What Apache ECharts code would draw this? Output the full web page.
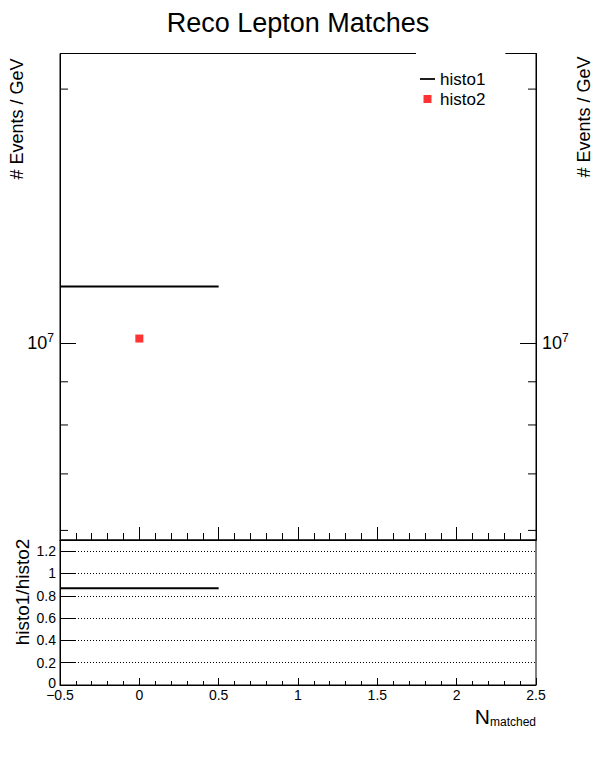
<!DOCTYPE html>
<html>
<head>
<meta charset="utf-8">
<script src="https://cdn.jsdelivr.net/npm/echarts@6/dist/echarts.min.js"></script>
<style>
  html, body { margin: 0; padding: 0; background: #fff; }
  #chart { width: 596px; height: 772px; }
</style>
</head>
<body>
<div id="chart"></div>
<script>
const binLow = [-0.5];
const binHigh = [0.5];
const binCenter = [0];
const histo1 = [1.167e7];
const histo2 = [1.0127e7];
const ratio = [0.868];
const yMinorTicks = [6e6, 7e6, 8e6, 9e6, 2e7];
const seriesNames = ['histo1', 'histo2'];

const FONT = "'Liberation Sans', Arial, Helvetica, sans-serif";

function stepData(lo, hi, vals) {
  const out = [];
  for (let i = 0; i < vals.length; i++) {
    out.push([lo[i], vals[i]]);
    out.push([hi[i], vals[i]]);
  }
  return out;
}

function powLabel(v) {
  const l = Math.log10(v);
  const r = Math.round(l);
  if (Math.abs(l - r) < 1e-9) return '{b|10}{s|' + r + '}';
  return '';
}

const chart = echarts.init(document.getElementById('chart'), null, { renderer: 'svg' });

const logRich = {
  b: { fontSize: 18, fontFamily: FONT, color: '#000', lineHeight: 22 },
  s: { fontSize: 12, fontFamily: FONT, color: '#000', verticalAlign: 'top', lineHeight: 22 }
};

const option = {
  animation: false,
  backgroundColor: '#fff',
  textStyle: { fontFamily: FONT, color: '#000' },
  title: {
    text: 'Reco Lepton Matches',
    left: 'center',
    top: 4,
    textStyle: { fontSize: 27, fontWeight: 'normal', fontFamily: FONT, color: '#000' }
  },
  legend: {
    orient: 'vertical',
    left: 416,
    top: 50,
    padding: [19, 20, 5, 4],
    itemGap: 0,
    itemWidth: 15,
    itemHeight: 8,
    backgroundColor: '#fff',
    borderWidth: 0,
    z: 10,
    textStyle: { fontSize: 17, fontFamily: FONT, color: '#000', lineHeight: 20 },
    data: [
      { name: seriesNames[0], icon: 'path://M0,0H17V2H0Z', itemStyle: { color: '#000' } },
      { name: seriesNames[1], icon: 'path://M0,0H8V8H0Z', itemStyle: { color: '#ff0000' } }
    ]
  },
  grid: [
    { left: 60, right: 60, top: 53.5, height: 486.5, show: true, borderColor: '#000', borderWidth: 1, backgroundColor: 'transparent' },
    { left: 60, right: 60, top: 540, height: 145, show: true, borderColor: '#000', borderWidth: 1, backgroundColor: 'transparent' }
  ],
  xAxis: [
    {
      gridIndex: 0, type: 'value', min: -0.5, max: 2.5, interval: 0.5,
      axisLine: { show: true, onZero: false, lineStyle: { color: '#000', width: 1 } },
      axisTick: { show: true, inside: true, length: 13, lineStyle: { color: '#000', width: 1 } },
      minorTick: { show: true, splitNumber: 5, length: 7, lineStyle: { color: '#000', width: 1 } },
      axisLabel: { show: false },
      splitLine: { show: false }
    },
    {
      gridIndex: 1, type: 'value', min: -0.5, max: 2.5, interval: 0.5,
      axisLine: { show: true, onZero: false, lineStyle: { color: '#000', width: 1 } },
      axisTick: { show: true, inside: true, length: 7, lineStyle: { color: '#000', width: 1 } },
      minorTick: { show: true, splitNumber: 5, length: 4, lineStyle: { color: '#000', width: 1 } },
      axisLabel: {
        show: true, fontSize: 14, fontFamily: FONT, color: '#000', margin: 3,
        formatter: v => String(v).replace('-', '\u2212')
      },
      splitLine: { show: false }
    }
  ],
  yAxis: [
    {
      gridIndex: 0, type: 'log', logBase: 10, min: 5.845e6, max: 2.204e7, position: 'left',
      axisLine: { show: true, onZero: false, lineStyle: { color: '#000', width: 1 } },
      axisTick: { show: true, inside: true, length: 16, lineStyle: { color: '#000', width: 1 } },
      minorTick: { show: false },
      axisLabel: { show: true, margin: 6, formatter: powLabel, rich: logRich },
      splitLine: { show: false }
    },
    {
      gridIndex: 0, type: 'log', logBase: 10, min: 5.845e6, max: 2.204e7, position: 'right',
      axisLine: { show: true, onZero: false, lineStyle: { color: '#000', width: 1 } },
      axisTick: { show: true, inside: true, length: 16, lineStyle: { color: '#000', width: 1 } },
      minorTick: { show: false },
      axisLabel: { show: true, margin: 6, formatter: powLabel, rich: logRich },
      splitLine: { show: false }
    },
    {
      gridIndex: 1, type: 'value', min: 0, max: 1.3, interval: 0.2,
      axisLine: { show: true, onZero: false, lineStyle: { color: '#000', width: 1 } },
      axisTick: { show: true, inside: true, length: 16, lineStyle: { color: '#000', width: 1 } },
      axisLabel: {
        show: true, fontSize: 14, fontFamily: FONT, color: '#000', margin: 4,
        formatter: v => {
          const k = Math.round(v / 0.2);
          if (Math.abs(v - k * 0.2) >= 1e-6) return '';
          return k === 0 ? '{z|0}' : String(Math.round(v * 10) / 10);
        },
        rich: { z: { fontSize: 14, fontFamily: FONT, color: '#000', padding: [0, 0, 5, 0] } }
      },
      splitLine: { show: true, lineStyle: { color: '#000', width: 1, type: [1, 2] } }
    }
  ],
  graphic: [
    {
      type: 'text', x: 17, y: 119, rotation: Math.PI / 2,
      style: { text: '# Events / GeV', fontSize: 18, fontFamily: FONT, fill: '#000', align: 'center', verticalAlign: 'middle' }
    },
    {
      type: 'text', x: 584, y: 117, rotation: Math.PI / 2,
      style: { text: '# Events / GeV', fontSize: 18, fontFamily: FONT, fill: '#000', align: 'center', verticalAlign: 'middle' }
    },
    {
      type: 'text', x: 22, y: 592, rotation: Math.PI / 2,
      style: { text: 'histo1/histo2', fontSize: 19, fontFamily: FONT, fill: '#000', align: 'center', verticalAlign: 'middle' }
    },
    {
      type: 'text', x: 536, y: 728,
      style: {
        text: '{n|N}{m|matched}', align: 'right', verticalAlign: 'bottom',
        rich: {
          n: { fontSize: 21, fontFamily: FONT, fill: '#000', color: '#000', lineHeight: 22, verticalAlign: 'top' },
          m: { fontSize: 12, fontFamily: FONT, fill: '#000', color: '#000', lineHeight: 22, verticalAlign: 'bottom' }
        }
      }
    }
  ],
  series: [
    {
      name: seriesNames[0], type: 'line', xAxisIndex: 0, yAxisIndex: 0,
      data: stepData(binLow, binHigh, histo1),
      symbol: 'none', color: '#000',
      lineStyle: { color: '#000', width: 2 },
      z: 3
    },
    {
      name: seriesNames[1], type: 'scatter', xAxisIndex: 0, yAxisIndex: 0,
      data: binCenter.map((c, i) => [c, histo2[i]]),
      symbol: 'rect', symbolSize: 8, color: '#ff0000',
      itemStyle: { color: '#ff0000' },
      z: 4
    },
    {
      name: 'ratio', type: 'line', xAxisIndex: 1, yAxisIndex: 2,
      data: stepData(binLow, binHigh, ratio),
      symbol: 'none', color: '#000',
      lineStyle: { color: '#000', width: 2 },
      z: 3
    },
    {
      name: 'yMinor', type: 'custom', xAxisIndex: 0, yAxisIndex: 0,
      data: yMinorTicks.map(v => [-0.5, v]),
      silent: true,
      renderItem: function (params, api) {
        const v = api.value(1);
        const pl = api.coord([-0.5, v]);
        const pr = api.coord([2.5, v]);
        return {
          type: 'group',
          children: [
            { type: 'line', shape: { x1: pl[0], y1: pl[1], x2: pl[0] + 8, y2: pl[1] }, style: { stroke: '#000', lineWidth: 1 } },
            { type: 'line', shape: { x1: pr[0] - 8, y1: pr[1], x2: pr[0], y2: pr[1] }, style: { stroke: '#000', lineWidth: 1 } }
          ]
        };
      },
      z: 2
    }
  ]
};

chart.setOption(option);
</script>
</body>
</html>
